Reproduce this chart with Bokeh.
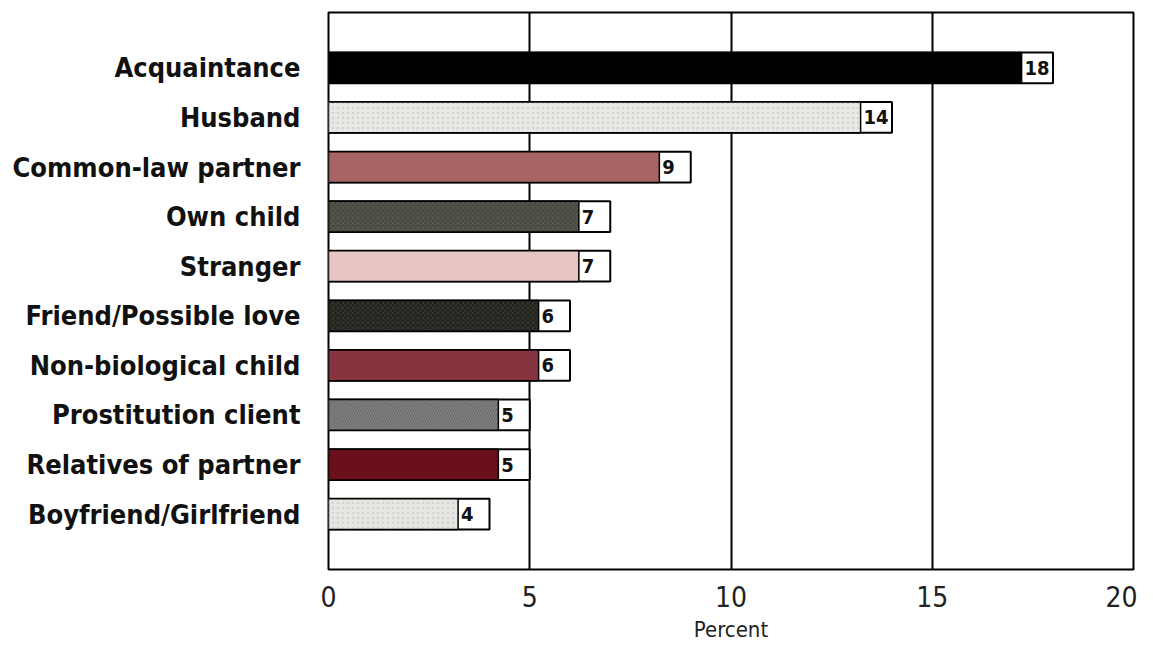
from bokeh.plotting import figure
from bokeh.models import ColumnDataSource, FactorRange, Range1d, FixedTicker
from bokeh.core.properties import value
from bokeh.embed import file_html
from bokeh.resources import INLINE

categories = ["Acquaintance", "Husband", "Common-law partner", "Own child", "Stranger",
              "Friend/Possible love", "Non-biological child", "Prostitution client",
              "Relatives of partner", "Boyfriend/Girlfriend"]
percent = [18, 14, 9, 7, 7, 6, 6, 5, 5, 4]
colors = ["#000000", "#e8e8e4", "#a66464", "#48483f", "#e6c4c4",
          "#22221c", "#863440", "#6e6e6e", "#6a101a", "#e6e6e2"]
hatches = [" ", "dot", " ", "x", " ", "x", " ", "right_diagonal_line", " ", "dot"]
hatch_colors = ["#000000", "#d0d0cc", "#a66464", "#5c5c56", "#e6c4c4",
                "#3a3a34", "#863440", "#8a8a8a", "#6a101a", "#d2d2ce"]
tick_values = [0, 5, 10, 15, 20]

LABEL_GAP = 0.78
src = ColumnDataSource(dict(
    cat=categories,
    value=percent,
    fill_end=[v - LABEL_GAP for v in percent],
    label=[str(v) for v in percent],
    color=colors,
    hatch=hatches,
    hatch_color=hatch_colors,
))

FONT = "DejaVu Sans Condensed"

p = figure(width=1137, height=644, output_backend="svg", toolbar_location=None,
           y_range=FactorRange(factors=categories[::-1], range_padding=0.123),
           x_range=Range1d(0, 20),
           min_border_left=328, min_border_right=4, min_border_top=12, min_border_bottom=74)

p.outline_line_color = "black"
p.outline_line_width = 2

p.hbar(y="cat", left=0, right="value", height=0.62, fill_color="white",
       line_color="black", line_width=2, source=src)
p.hbar(y="cat", left=0, right="fill_end", height=0.62, fill_color="color",
       line_color="black", line_width=1.5, hatch_pattern="hatch",
       hatch_color="hatch_color", hatch_scale=5, hatch_weight=1, hatch_alpha=0.9,
       source=src)
p.text(x="fill_end", y="cat", text="label", source=src, x_offset=3,
       text_align="left", text_baseline="middle", text_font=value(FONT),
       text_font_style="bold", text_font_size="20px", text_color="#111111")

p.xaxis.ticker = FixedTicker(ticks=tick_values)
p.xgrid.ticker = FixedTicker(ticks=tick_values)
p.xgrid.grid_line_color = "black"
p.xgrid.grid_line_width = 2
p.ygrid.visible = False

p.xaxis.axis_line_color = None
p.xaxis.major_tick_line_color = None
p.xaxis.minor_tick_line_color = None
p.xaxis.major_label_text_font = FONT
p.xaxis.major_label_text_font_size = "28px"
p.xaxis.major_label_text_color = "#222222"
p.xaxis.major_label_standoff = 10
p.xaxis.axis_label = "Percent"
p.xaxis.axis_label_text_font = FONT
p.xaxis.axis_label_text_font_style = "normal"
p.xaxis.axis_label_text_font_size = "22px"
p.xaxis.axis_label_text_color = "#222222"
p.xaxis.axis_label_standoff = 7

p.yaxis.axis_line_color = None
p.yaxis.major_tick_line_color = None
p.yaxis.minor_tick_line_color = None
p.yaxis.major_label_text_font = FONT
p.yaxis.major_label_text_font_style = "bold"
p.yaxis.major_label_text_font_size = "27px"
p.yaxis.major_label_text_color = "#111111"
p.yaxis.major_label_standoff = 22

open("out.html", "w").write(file_html(p, INLINE))
